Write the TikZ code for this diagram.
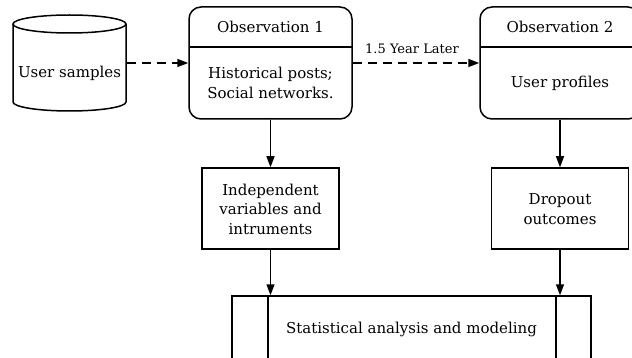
\documentclass[tikz,border=0pt]{standalone}
\usepackage{fontspec}
\setmainfont{DejaVu Serif}
\usetikzlibrary{arrows.meta}
\begin{document}
\begin{tikzpicture}[x=1pt,y=-1pt,
  line width=1.5pt,
  lbl/.style={font=\fontsize{15}{19.5}\selectfont, align=center, inner sep=0pt},
  plainbox/.style={draw, inner sep=0pt},
  conn/.style={-{Triangle[length=11pt,width=8pt]}},
  dashconn/.style={conn, dash pattern=on 9pt off 6pt},
]
\useasboundingbox (0,0) rectangle (632,358);
% cylinder
\draw (13,24) -- (13,102) arc[start angle=180,end angle=360,x radius=56.5,y radius=-9] -- (126,24);
\draw (69.5,24) ellipse[x radius=56.5,y radius=9];
\node[minimum width=113pt, minimum height=96pt, inner sep=0pt] (samples) at (69.5,63) {};
\node[lbl] at (69.5,73) {User samples};
% observation 1
\node[plainbox, rounded corners=12pt, minimum width=163pt, minimum height=112pt] (obs1) at (270.5,63) {};
\coordinate (o1l) at (189,47); \coordinate (o1r) at (352,47);
\draw (o1l) -- (o1r);
\node[lbl] (o1title) at (270.5,27) {Observation 1};
\node[lbl] (o1body) at (270.5,83) {Historical posts;\\Social networks.};
% observation 2
\node[plainbox, rounded corners=12pt, minimum width=160pt, minimum height=112pt] (obs2) at (560,63) {};
\coordinate (o2l) at (480,47); \coordinate (o2r) at (640,47);
\draw (o2l) -- (o2r);
\node[lbl] (o2title) at (560,27) {Observation 2};
\node[lbl] (o2body) at (560,83) {User profiles};
% lower boxes
\node[plainbox, minimum width=137pt, minimum height=81pt] (indep) at (270.5,208.5) {};
\node[lbl] at (270.5,209) {Independent\\variables and\\intruments};
\node[plainbox, minimum width=137pt, minimum height=81pt] (drop) at (560,208.5) {};
\node[lbl] at (560,209) {Dropout\\outcomes};
% process box
\node[plainbox, minimum width=359pt, minimum height=66pt] (proc) at (411.5,329) {};
\draw (268,296) -- (268,362);
\draw (556,296) -- (556,362);
\node[lbl] at (411.5,329) {Statistical analysis and modeling};
% connectors
\draw[dashconn] (samples.east) -- (obs1.west);
\draw[dashconn] (obs1.east) -- node[lbl, above=9pt, xshift=-4pt, font=\fontsize{13}{15}\selectfont] {1.5 Year Later} (obs2.west);
\draw[conn] (obs1.south) -- (indep.north);
\draw[conn] (obs2.south) -- (drop.north);
\draw[conn] (indep.south) -- (proc.north -| indep.south);
\draw[conn] (drop.south) -- (proc.north -| drop.south);
\end{tikzpicture}
\end{document}
